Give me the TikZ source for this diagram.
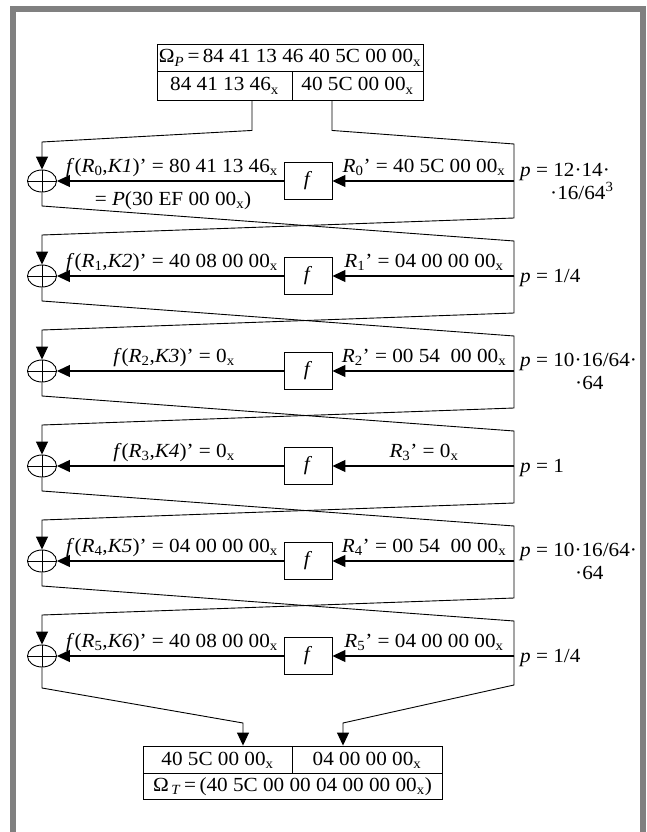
\documentclass[tikz,border=0pt]{standalone}
\usepackage{fontspec}
\setmainfont{Liberation Serif}[FakeStretch=1.06]
\usetikzlibrary{arrows.meta,shapes.geometric}
\newcommand{\hx}{\textsubscript{x}}
\newcommand{\rr}[1]{\textit{R}\textsubscript{#1}}
\begin{document}
\begin{tikzpicture}[x=1pt,y=-1pt,
  every node/.style={font=\fontsize{20}{24}\selectfont},
  lbl/.style={inner sep=0pt, anchor=base},
  plbl/.style={inner sep=0pt, anchor=base west},
  conn/.style={line width=0.9pt},
  arr/.style={line width=0.9pt, -{Triangle[length=13pt,width=12pt]}},
  harr/.style={line width=1.2pt, -{Triangle[length=13pt,width=12pt]}},
  fbox/.style={draw, line width=0.9pt, minimum width=48pt, minimum height=37pt, inner sep=0pt},
  xor/.style={draw, ellipse, line width=0.9pt, minimum width=29pt, minimum height=22pt, inner sep=0pt},
  cell/.style={draw, line width=0.9pt, inner sep=0pt, text height=14pt, text depth=3pt}
]
\useasboundingbox (0,0) rectangle (646,832);
\clip (0,0) rectangle (646,832);
% frame
\draw[gray, line width=6pt] (13,900) -- (13,9.5) -- (643,9.5) -- (643,900);

% top box
\node[cell, minimum width=266pt, minimum height=27pt] (omP) at (290,57.5) {Ω\textsubscript{\textit{P}}\,=\,84 41 13 46 40 5C 00 00\hx};
\node[cell, minimum width=135pt, minimum height=29pt] (pl) at (224.5,85.5) {84 41 13 46\hx};
\node[cell, minimum width=131pt, minimum height=29pt] (pr) at (357.5,85.5) {40 5C 00 00\hx};

% rounds
\foreach \k/\y in {1/181,2/276,3/371,4/466,5/561,6/656} {
  \node[xor] (x\k) at (42,\y) {};
  \draw[conn] (x\k.north) -- (x\k.south) (x\k.west) -- (x\k.east);
  \node[fbox] (f\k) at (308,\y) {\textit{f}};
  \coordinate (r\k) at (514,\y);
  \draw[harr] (r\k) -- (f\k);
  \draw[harr] (f\k) -- (x\k);
}

% inputs of round 1
\draw[arr] ([xshift=27.5pt]pl.south) -- ++(0,30) -- (42,142) -- (x1.north);
\draw[conn] ([xshift=-25.5pt]pr.south) -- ++(0,30) -- (514,144) -- (r1);

% crossings between rounds
\foreach \k/\y/\n in {1/181/2,2/276/3,3/371/4,4/466/5,5/561/6} {
  \draw[conn] (x\k.south) -- (42,\y+25) -- (514,\y+60) -- (r\n);
  \draw[arr] (r\k) -- (514,\y+37) -- (42,\y+54) -- (x\n.north);
}

% bottom box
\node[cell, minimum width=149pt, minimum height=27pt] (tl) at (217.5,759.5) {40 5C 00 00\hx};
\node[cell, minimum width=150pt, minimum height=27pt] (tr) at (367,759.5) {04 00 00 00\hx};
\node[cell, minimum width=299pt, minimum height=26pt] (omT) at (292.5,786) {Ω\textsubscript{\,\textit{T}}\,=\,(40 5C 00 00 04 00 00 00\hx)};

\draw[arr] (x6.south) -- (42,688) -- (243,723) -- (243,723 |- tl.north);
\draw[arr] (r6) -- (514,685) -- (343,723) -- (343,723 |- tr.north);

% labels round 1
\node[lbl] (fa1) at (172,172) {\textit{f}(\rr{0},\textit{K1})’ = 80 41 13 46\hx};
\node[lbl] (fb1) at (173,205) {= \textit{P}(30 EF 00 00\hx)};
\node[lbl] (ra1) at (424,172) {\rr{0}’ = 40 5C 00 00\hx};
\node[plbl] (pa1) at (520,176) {\textit{p} = 12·14·};
\node[plbl] (pb1) at (550,199) {·16/64\textsuperscript{3}};
% round 2
\node[lbl] (fa2) at (172,267) {\textit{f}(\rr{1},\textit{K2})’ = 40 08 00 00\hx};
\node[lbl] (ra2) at (424,267) {\rr{1}’ = 04 00 00 00\hx};
\node[plbl] (pa2) at (520,282) {\textit{p} = 1/4};
% round 3
\node[lbl] (fa3) at (174,362) {\textit{f}(\rr{2},\textit{K3})’ = 0\hx};
\node[lbl] (ra3) at (424,362) {\rr{2}’ = 00 54\ \ 00 00\hx};
\node[plbl] (pa3) at (520,366) {\textit{p} = 10·16/64·};
\node[plbl] (pb3) at (575,389) {·64};
% round 4
\node[lbl] (fa4) at (174,457) {\textit{f}(\rr{3},\textit{K4})’ = 0\hx};
\node[lbl] (ra4) at (424,457) {\rr{3}’ = 0\hx};
\node[plbl] (pa4) at (520,472) {\textit{p} = 1};
% round 5
\node[lbl] (fa5) at (172,552) {\textit{f}(\rr{4},\textit{K5})’ = 04 00 00 00\hx};
\node[lbl] (ra5) at (424,552) {\rr{4}’ = 00 54\ \ 00 00\hx};
\node[plbl] (pa5) at (520,556) {\textit{p} = 10·16/64·};
\node[plbl] (pb5) at (575,579) {·64};
% round 6
\node[lbl] (fa6) at (172,647) {\textit{f}(\rr{5},\textit{K6})’ = 40 08 00 00\hx};
\node[lbl] (ra6) at (424,647) {\rr{5}’ = 04 00 00 00\hx};
\node[plbl] (pa6) at (520,662) {\textit{p} = 1/4};
\end{tikzpicture}
\end{document}
